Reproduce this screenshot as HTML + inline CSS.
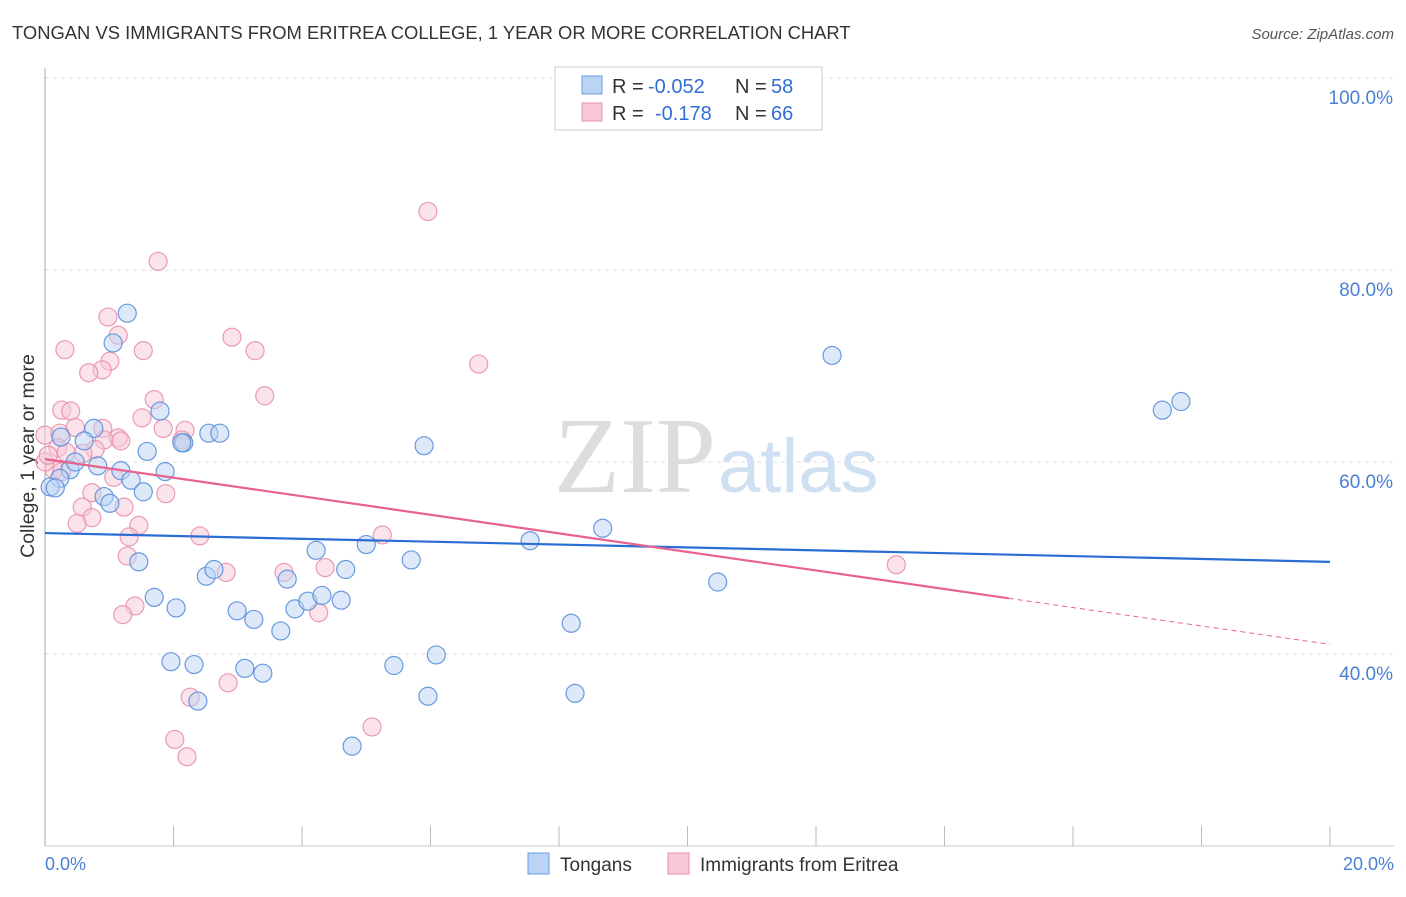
<!DOCTYPE html>
<html><head><meta charset="utf-8"><style>
body{margin:0;background:#fff;font-family:"Liberation Sans",sans-serif;}
</style></head><body>
<svg width="1406" height="892" xmlns="http://www.w3.org/2000/svg">
<text x="12" y="39" font-size="18.4" fill="#333">TONGAN VS IMMIGRANTS FROM ERITREA COLLEGE, 1 YEAR OR MORE CORRELATION CHART</text>
<text x="1394" y="39" font-size="15" fill="#555" font-style="italic" text-anchor="end">Source: ZipAtlas.com</text>
<g id="grid"></g>
<line x1="45" y1="68" x2="45" y2="846" stroke="#aaa"/>
<line x1="45" y1="846" x2="1394" y2="846" stroke="#ccc"/>
<g id="xticks"></g>
<text x="716" y="492" font-size="108" fill="#ddd" text-anchor="end" font-family="Liberation Serif,serif">ZIP</text>
<text x="718" y="492" font-size="76" fill="#cfe0f3">atlas</text>
<text x="34" y="456" font-size="19.5" fill="#333" text-anchor="middle" transform="rotate(-90 34 456)">College, 1 year or more</text>
<text x="45" y="870" font-size="18" fill="#4a7fd4">0.0%</text>
<text x="1394" y="870" font-size="18" fill="#4a7fd4" text-anchor="end">20.0%</text>
<g id="pts"></g>
<g id="trends"></g>
<g>
<rect x="555" y="67" width="267" height="63" fill="#fff" stroke="#ccc"/>
<rect x="582" y="76" width="20" height="18" fill="#bcd4f3" stroke="#6a9de0"/>
<rect x="582" y="103" width="20" height="18" fill="#f8c8d7" stroke="#e890ad"/>
<text x="612" y="93" font-size="20" fill="#333">R =</text>
<text x="648" y="93" font-size="20" fill="#2f6fd6">-0.052</text>
<text x="735" y="93" font-size="20" fill="#333">N =</text>
<text x="771" y="93" font-size="20" fill="#2f6fd6">58</text>
<text x="612" y="120" font-size="20" fill="#333">R =</text>
<text x="655" y="120" font-size="20" fill="#2f6fd6">-0.178</text>
<text x="735" y="120" font-size="20" fill="#333">N =</text>
<text x="771" y="120" font-size="20" fill="#2f6fd6">66</text>
</g>
<g>
<rect x="528" y="853" width="21" height="21" fill="#bcd4f3" stroke="#6a9de0"/>
<text x="560" y="871" font-size="19" fill="#333">Tongans</text>
<rect x="668" y="853" width="21" height="21" fill="#f8c8d7" stroke="#e890ad"/>
<text x="700" y="871" font-size="19" fill="#333">Immigrants from Eritrea</text>
</g>
</svg>
<script>
const yTicks=[40,60,80,100];
const blueX=[],blueY=[],pinkX=[],pinkY=[];
const bluePx=[[127,313],[113,343],[160,411],[94,428],[84,441],[61,437],[147,451],[184,443],[209,433],[220,433],[98,466],[70,470],[60,478],[121,471],[131,480],[165,472],[50,487],[55,488],[104,497],[110,503],[143,492],[139,562],[154,597],[176,608],[206,576],[214,570],[237,611],[254,619],[245,668],[263,673],[281,631],[295,609],[287,579],[308,601],[322,595],[316,550],[341,600],[346,570],[366,545],[411,560],[394,666],[436,655],[428,696],[352,746],[171,662],[194,665],[198,701],[424,446],[530,541],[603,528],[571,623],[575,693],[718,582],[832,355],[1162,410],[1181,402],[182,443],[75,462]];
const pinkPx=[[428,211],[158,261],[108,317],[118,335],[65,350],[143,351],[110,361],[102,370],[89,373],[232,337],[255,351],[479,364],[265,396],[154,400],[142,418],[62,410],[71,411],[45,435],[60,433],[75,427],[103,428],[118,438],[104,440],[121,441],[58,448],[95,450],[83,453],[185,430],[163,428],[182,440],[54,470],[45,462],[62,472],[92,493],[124,507],[166,494],[82,507],[92,518],[77,523],[139,525],[129,537],[127,556],[200,536],[226,572],[284,572],[325,568],[382,535],[319,613],[135,606],[123,615],[190,697],[175,739],[187,757],[228,683],[372,727],[896,565],[48,455],[66,452],[114,477]];
bluePx.forEach(p=>{blueX.push(+((p[0]-45)/1285*20).toFixed(2));blueY.push(+(100-(p[1]-78)/9.6).toFixed(1));});
pinkPx.forEach(p=>{pinkX.push(+((p[0]-45)/1285*20).toFixed(2));pinkY.push(+(100-(p[1]-78)/9.6).toFixed(1));});
const blueTrend=[52.6,49.6];const pinkTrend=[60.3,45.8,41.0];const pinkSolidEnd=15.0;
const NS="http://www.w3.org/2000/svg";
const X=v=>45+v/20*1285, Y=v=>78+(100-v)*9.6;
function mk(t,a,p){const e=document.createElementNS(NS,t);for(const k in a)e.setAttribute(k,a[k]);p.appendChild(e);return e;}
const grid=document.getElementById('grid');
yTicks.forEach(t=>{
 const l=mk('line',{x1:45,x2:1394,y1:Y(t),y2:Y(t),stroke:'#ddd','stroke-dasharray':'4,4'},grid);
 
 
 const tx=mk('text',{x:1393,y:Y(t)+26,'font-size':19,fill:'#4a7fd4','text-anchor':'end'},grid);
 tx.textContent=t.toFixed(1)+'%';
 
 
});
const xt=document.getElementById('xticks');
for(let i=1;i<=10;i++){const l=mk('line',{x1:X(i*2),x2:X(i*2),y1:826,y2:846,stroke:'#bbb'},xt);
 
 }
const pts=document.getElementById('pts');
function draw(xs,ys,f,s,n){xs.forEach((x,i)=>{const c=mk('circle',{cx:X(x),cy:Y(ys[i]),r:9,fill:f,'fill-opacity':0.5,stroke:s,'stroke-width':1.2,'stroke-opacity':0.9},pts);
 
 });}
draw(pinkX,pinkY,'#f8c8d7','#e890ad','eritrea-point');
draw(blueX,blueY,'#bcd4f3','#5a8fdc','tongan-point');
const tr=document.getElementById('trends');
let b=mk('line',{x1:X(0),y1:Y(blueTrend[0]),x2:X(20),y2:Y(blueTrend[1]),stroke:'#2a6dd4','stroke-width':2.2},tr);


let p=mk('line',{x1:X(0),y1:Y(pinkTrend[0]),x2:X(pinkSolidEnd),y2:Y(pinkTrend[1]),stroke:'#e8628e','stroke-width':2.2},tr);


let pd=mk('line',{x1:X(pinkSolidEnd),y1:Y(pinkTrend[1]),x2:X(20),y2:Y(pinkTrend[2]),stroke:'#e8628e','stroke-width':1,'stroke-dasharray':'5,4'},tr);


</script>
</body></html>
